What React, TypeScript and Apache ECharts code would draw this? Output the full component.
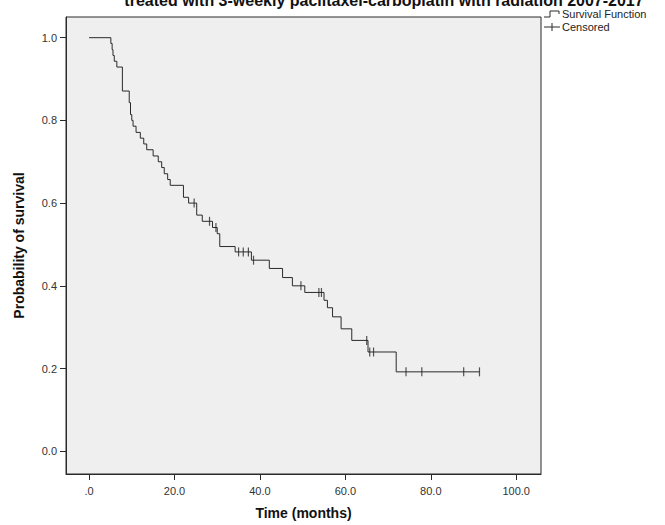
import React, { useEffect, useRef } from 'react';
import * as echarts from 'echarts';

// Kaplan-Meier curve: survival value after each event time (months)
const timeMonths = [0, 5.1, 5.4, 5.6, 5.9, 6.5, 7.8, 9.4, 9.7, 10.0, 10.3, 11.0, 12.0, 12.8, 13.5, 15.0, 16.2, 17.0, 17.6, 18.4, 19.0, 22.1, 23.3, 25.2, 26.5, 28.9, 30.0, 30.6, 34.2, 38.0, 42.2, 45.3, 47.6, 50.5, 55.0, 55.8, 57.0, 59.0, 61.5, 65.3, 71.9, 91.4];
const survival = [1, 0.986, 0.971, 0.957, 0.943, 0.929, 0.871, 0.843, 0.814, 0.8, 0.786, 0.771, 0.757, 0.743, 0.729, 0.714, 0.7, 0.686, 0.671, 0.657, 0.643, 0.614, 0.6, 0.571, 0.556, 0.541, 0.526, 0.495, 0.482, 0.462, 0.442, 0.42, 0.4, 0.384, 0.365, 0.347, 0.325, 0.296, 0.268, 0.24, 0.192, 0.192];

// Censored observations
const censorTimes = [24.6, 28.2, 29.7, 35.0, 36.1, 37.3, 38.5, 49.6, 53.8, 54.4, 65.0, 65.7, 66.6, 74.2, 77.9, 87.7, 91.4];
const censorSurvival = [0.6, 0.556, 0.541, 0.482, 0.482, 0.482, 0.462, 0.4, 0.384, 0.384, 0.268, 0.24, 0.24, 0.192, 0.192, 0.192, 0.192];

const xTickValues = [0, 20, 40, 60, 80, 100];
const yTickValues = [0, 0.2, 0.4, 0.6, 0.8, 1.0];

const titleText = 'treated with 3-weekly paclitaxel-carboplatin with radiation 2007-2017';
const xAxisTitle = 'Time (months)';
const yAxisTitle = 'Probability of survival';
const legendLabels = ['Survival Function', 'Censored'];

export default function App() {
  const ref = useRef<HTMLDivElement>(null);

  useEffect(() => {
    if (!ref.current) return;
    const chart = echarts.init(ref.current, null, { renderer: 'svg' });
    const font = 'Arial, "Liberation Sans", sans-serif';
    const ink = '#2a2a2a';

    chart.setOption({
      animation: false,
      backgroundColor: '#ffffff',
      textStyle: { fontFamily: font },
      grid: {
        left: 66,
        top: 17,
        width: 475,
        height: 457,
        show: true,
        backgroundColor: '#efefef',
        borderColor: ink,
        borderWidth: 1,
      },
      xAxis: {
        type: 'value',
        min: -5.4,
        max: 105.8,
        name: xAxisTitle,
        nameLocation: 'middle',
        nameGap: 32,
        nameTextStyle: { fontFamily: font, fontWeight: 'bold', fontSize: 14, color: '#111' },
        splitLine: { show: false },
        axisLine: { show: true, onZero: false, lineStyle: { color: ink, width: 1 } },
        axisTick: { show: true, length: 6, customValues: xTickValues, lineStyle: { color: ink } },
        axisLabel: {
          customValues: xTickValues,
          margin: 11,
          fontSize: 11,
          color: '#333',
          fontFamily: font,
          formatter: (v: number) => (v === 0 ? '.0' : v.toFixed(1)),
        },
      },
      yAxis: {
        type: 'value',
        min: -0.055,
        max: 1.05,
        name: yAxisTitle,
        nameLocation: 'middle',
        nameGap: 40,
        nameRotate: 90,
        nameTextStyle: { fontFamily: font, fontWeight: 'bold', fontSize: 14, color: '#111' },
        splitLine: { show: false },
        axisLine: { show: true, onZero: false, lineStyle: { color: ink, width: 1 } },
        axisTick: { show: true, length: 6, customValues: yTickValues, lineStyle: { color: ink } },
        axisLabel: {
          customValues: yTickValues,
          margin: 9,
          fontSize: 11,
          color: '#333',
          fontFamily: font,
          formatter: (v: number) => v.toFixed(1),
        },
      },
      graphic: [
        {
          type: 'text',
          x: 384,
          y: 8,
          style: {
            text: titleText,
            font: `bold 16px ${font}`,
            fill: '#111',
            textAlign: 'center',
            textVerticalAlign: 'bottom',
          },
        },
        {
          type: 'polyline',
          shape: { points: [[544, 17], [550, 17], [550, 11], [559, 11], [559, 14]] },
          style: { stroke: ink, lineWidth: 1, fill: 'none' },
        },
        {
          type: 'text',
          x: 562,
          y: 14,
          style: { text: legendLabels[0], font: `11px ${font}`, fill: '#222', textVerticalAlign: 'middle' },
        },
        {
          type: 'line',
          shape: { x1: 544, y1: 27, x2: 560, y2: 27 },
          style: { stroke: ink, lineWidth: 1 },
        },
        {
          type: 'line',
          shape: { x1: 552, y1: 23, x2: 552, y2: 31 },
          style: { stroke: ink, lineWidth: 1 },
        },
        {
          type: 'text',
          x: 562,
          y: 27,
          style: { text: legendLabels[1], font: `11px ${font}`, fill: '#222', textVerticalAlign: 'middle' },
        },
      ],
      series: [
        {
          name: legendLabels[0],
          type: 'line',
          step: 'end',
          showSymbol: false,
          data: timeMonths.map((t, i) => [t, survival[i]]),
          lineStyle: { color: ink, width: 1 },
          itemStyle: { color: ink },
        },
        {
          name: legendLabels[1],
          type: 'scatter',
          symbol: 'rect',
          symbolSize: [1.2, 9],
          data: censorTimes.map((t, i) => [t, censorSurvival[i]]),
          itemStyle: { color: ink },
        },
      ],
    });

    return () => chart.dispose();
  }, []);

  return <div ref={ref} style={{ position: 'fixed', left: 0, top: 0, width: 665, height: 525 }} />;
}
